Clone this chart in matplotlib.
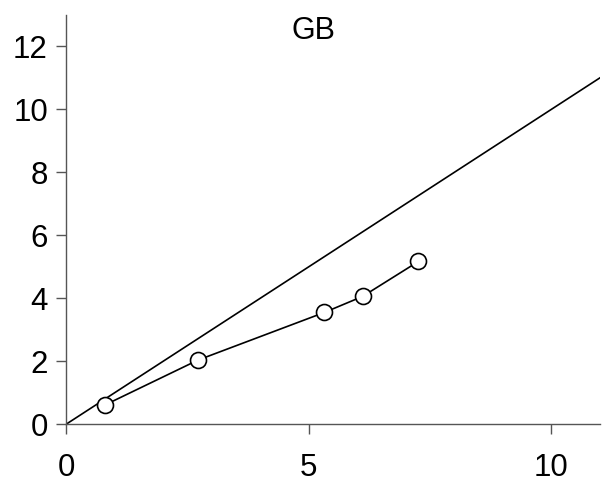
import numpy as np
import matplotlib
matplotlib.use('Agg')
import matplotlib.pyplot as plt

plt.rcParams['font.family'] = ['Liberation Sans', 'DejaVu Sans']

# measured points
gb_x = [0.81, 2.72, 5.32, 6.11, 7.26]
gb_y = [0.62, 2.04, 3.55, 4.06, 5.17]
ref_x = [0, 11]
ref_y = [0, 11]

fig = plt.figure(figsize=(6.02, 4.91), dpi=100)
ax = fig.add_axes([0.1096, 0.1358, 0.887, 0.834])

ax.plot(ref_x, ref_y, color='black', lw=1.2)
ax.plot(gb_x, gb_y, color='black', lw=1.2, marker='o', ms=11.5,
        mfc='white', mec='black', mew=1.2, clip_on=False)

ax.set_xlim(0, 11)
ax.set_ylim(0, 13)
ax.set_xticks([0, 5, 10])
ax.set_yticks([0, 2, 4, 6, 8, 10, 12])

for s in ['top', 'right']:
    ax.spines[s].set_visible(False)
for s in ['left', 'bottom']:
    ax.spines[s].set_color('#555555')
    ax.spines[s].set_linewidth(1.0)

ax.tick_params(axis='both', labelsize=22.5, length=7, width=1.0, color='#555555', pad=6)
ax.tick_params(axis='x', pad=14)

ax.text(5.1, 12.48, 'GB', ha='center', va='center', fontsize=22)

fig.savefig('out.png', dpi=100)
